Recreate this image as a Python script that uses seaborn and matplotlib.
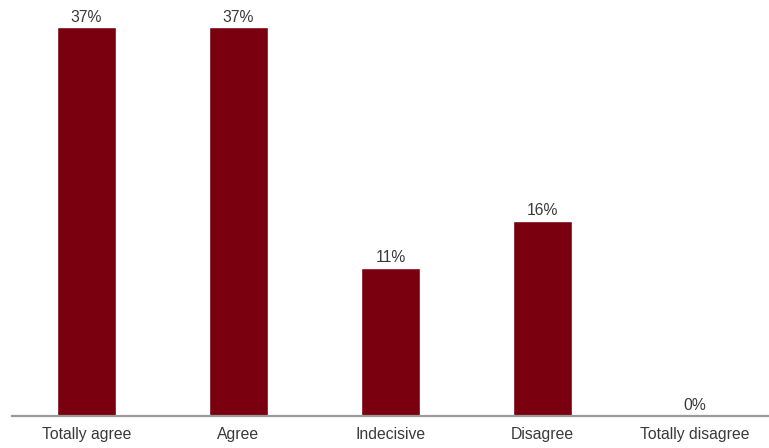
import matplotlib
matplotlib.use("Agg")
import matplotlib.pyplot as plt
import seaborn as sns
import pandas as pd

categories = ["Totally agree", "Agree", "Indecisive", "Disagree", "Totally disagree"]
bar_heights = [37, 37, 14.1, 18.6, 0]
value_labels = ["37%", "37%", "11%", "16%", "0%"]

sns.set_theme(style="white")
plt.rcParams["font.family"] = ["Liberation Sans", "DejaVu Sans"]

df = pd.DataFrame({"category": categories, "value": bar_heights})

fig = plt.figure(figsize=(7.69, 4.48), dpi=100)
ax = fig.add_axes([12 / 769, 32 / 448, 757 / 769, 416 / 448])
sns.barplot(data=df, x="category", y="value", color="#7A0010", saturation=1,
            width=0.384, ax=ax)

for i, (h, lab) in enumerate(zip(bar_heights, value_labels)):
    ax.annotate(lab, (i, h), xytext=(0, 2), textcoords="offset points",
                ha="center", va="bottom", fontsize=11.3, color="#3a3a3a")

ax.set_xlim(-0.49, 4.49)
ax.set_ylim(0, 39.6)
ax.set_xlabel("")
ax.set_ylabel("")
ax.set_yticks([])
ax.tick_params(axis="x", length=0, labelsize=11.3, labelcolor="#3a3a3a", pad=8)
for side in ["top", "right", "left"]:
    ax.spines[side].set_visible(False)
ax.spines["bottom"].set_color("#9a9a9a")
ax.spines["bottom"].set_linewidth(1.6)

fig.savefig("out.png", dpi=100)
